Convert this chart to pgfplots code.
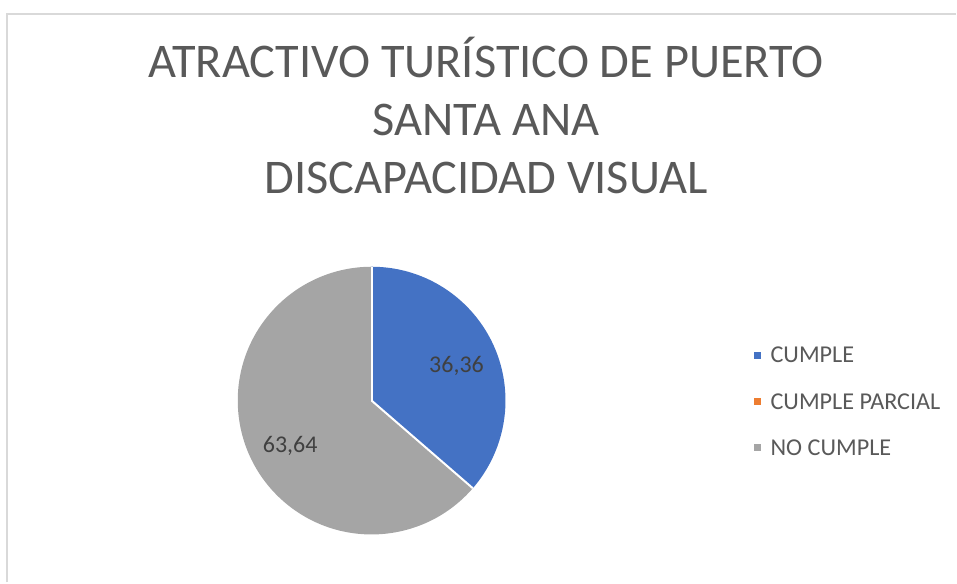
\documentclass[border=0pt]{standalone}
\usepackage{pgfplots}
\usepackage{pgfplotstable}
\pgfplotsset{compat=1.18}
\usepackage{fontspec}
\setmainfont{Carlito}
\definecolor{cBlue}{HTML}{4472C4}
\definecolor{cOrange}{HTML}{ED7D31}
\definecolor{cGray}{HTML}{A5A5A5}
\definecolor{cText}{HTML}{595959}
\definecolor{cLabel}{HTML}{404040}
\definecolor{cBorder}{HTML}{D9D9D9}
\pgfplotstableread{
label value
CUMPLE 36.36
{CUMPLE PARCIAL} 0
{NO CUMPLE} 63.64
}\datatable
\begin{document}
\begin{tikzpicture}
\pgfplotstablegetelem{0}{value}\of\datatable \let\vA\pgfplotsretval
\pgfplotstablegetelem{1}{value}\of\datatable \let\vB\pgfplotsretval
\pgfplotstablegetelem{2}{value}\of\datatable \let\vC\pgfplotsretval
\pgfmathsetmacro{\aA}{90-3.6*\vA}
\pgfmathsetmacro{\aB}{\aA-3.6*\vB}
\pgfmathsetmacro{\aC}{\aB-3.6*\vC}
\begin{axis}[hide axis, scale only axis, width=478.5pt, height=291.5pt,
  xmin=0, xmax=957, ymin=0, ymax=583, clip=false]
\path (axis cs:0,0) rectangle (axis cs:957,583);
% border
\draw[cBorder, line width=1pt] (axis cs:7,0) -- (axis cs:7,569) -- (axis cs:957,569);
% title
\node[anchor=base, text=cText, font=\fontsize{24.2}{28}\selectfont] at (axis cs:486.5,505) {ATRACTIVO TURÍSTICO DE PUERTO};
\node[anchor=base, text=cText, font=\fontsize{24.2}{28}\selectfont] at (axis cs:486.5,447) {SANTA ANA};
\node[anchor=base, text=cText, font=\fontsize{24.2}{28}\selectfont] at (axis cs:486.5,389) {DISCAPACIDAD VISUAL};
% pie
\fill[cBlue] (axis cs:372,182) -- ++(90:67pt) arc[start angle=90, end angle=\aA, radius=67pt] -- cycle;
\fill[cGray] (axis cs:372,182) -- ++(\aB:67pt) arc[start angle=\aB, end angle=\aC, radius=67pt] -- cycle;
\draw[white, line width=1pt] (axis cs:372,182) -- ++(90:67pt);
\draw[white, line width=1pt] (axis cs:372,182) -- ++(\aA:67pt);
% data labels
\node[anchor=base, text=cLabel, font=\fontsize{12}{14}\selectfont] at (axis cs:457,210) {36,36};
\node[anchor=base, text=cLabel, font=\fontsize{12}{14}\selectfont] at (axis cs:290.5,130) {63,64};
% legend
\fill[cBlue] (axis cs:755,224) rectangle (axis cs:762,231);
\fill[cOrange] (axis cs:755,178) rectangle (axis cs:762,185);
\fill[cGray] (axis cs:755,132) rectangle (axis cs:762,139);
\node[anchor=base west, inner sep=0pt, text=cText, font=\fontsize{12.1}{14}\selectfont] at (axis cs:771,220) {CUMPLE};
\node[anchor=base west, inner sep=0pt, text=cText, font=\fontsize{12.1}{14}\selectfont] at (axis cs:771,173.5) {CUMPLE PARCIAL};
\node[anchor=base west, inner sep=0pt, text=cText, font=\fontsize{12.1}{14}\selectfont] at (axis cs:771,127.5) {NO CUMPLE};
\end{axis}
\end{tikzpicture}
\end{document}
